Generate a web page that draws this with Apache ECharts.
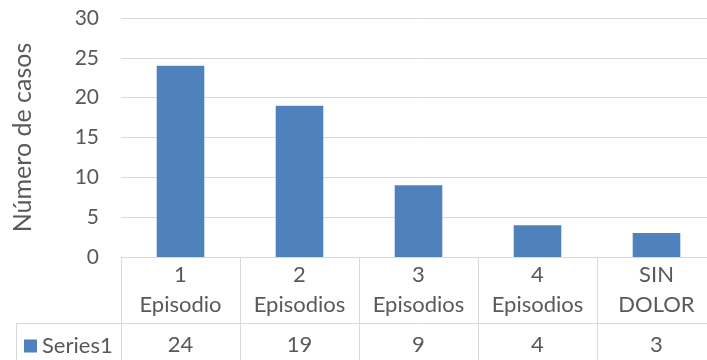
<!DOCTYPE html>
<html>
<head>
<meta charset="utf-8">
<script src="https://cdn.jsdelivr.net/npm/echarts@6/dist/echarts.min.js"></script>
<style>
  html, body { margin: 0; padding: 0; background: #fff; overflow: hidden; }
  #main { width: 716px; height: 360px; }
</style>
</head>
<body>
<div id="main"></div>
<script>
// datos del grafico
var categories = ['1\nEpisodio', '2\nEpisodios', '3\nEpisodios', '4\nEpisodios', 'SIN\nDOLOR']
var seriesName = 'Series1'
var values = [24, 19, 9, 4, 3]
var yTicks = [0, 5, 10, 15, 20, 25, 30]

var font = 'Lato, "Open Sans", sans-serif'
var txt = '#595959'
var line = '#d9d9d9'

// el grafico original esta recortado a la derecha, por eso el div es mas ancho
var chart = echarts.init(document.getElementById('main'))
var option = {
  animation: false,
  textStyle: { fontFamily: font },
  grid: { left: 121, right: 0, top: 18, bottom: 103 },
  legend: {
    data: [seriesName],
    left: 24,
    top: 335,
    padding: 0,
    icon: 'rect',
    itemWidth: 13,
    itemHeight: 13,
    itemGap: 5,
    textStyle: { color: txt, fontSize: 22, fontFamily: font }
  },
  xAxis: [
    {
      type: 'category',
      data: categories,
      axisLine: { lineStyle: { color: line } },
      axisTick: { show: true, length: 104, interval: 0, lineStyle: { color: line } },
      axisLabel: { color: txt, fontSize: 22, lineHeight: 30, margin: 3, interval: 0 }
    },
    {
      type: 'category',
      position: 'bottom',
      offset: 66,
      data: categories,
      axisLine: { lineStyle: { color: line } },
      axisTick: { show: false },
      axisLabel: {
        color: txt, fontSize: 22, margin: 11, interval: 0,
        formatter: function (v, i) { return String(values[i]) }
      }
    }
  ],
  yAxis: {
    type: 'value',
    min: yTicks[0],
    max: yTicks[yTicks.length - 1],
    interval: 5,
    name: 'Número de casos',
    nameLocation: 'middle',
    nameRotate: 90,
    nameGap: 86,
    nameTextStyle: { color: txt, fontSize: 25, fontFamily: font },
    axisLine: { show: false },
    axisTick: { show: false },
    axisLabel: { color: txt, fontSize: 21, margin: 22 },
    splitLine: { lineStyle: { color: line } }
  },
  series: [
    {
      name: seriesName,
      type: 'bar',
      barWidth: '40%',
      data: values,
      itemStyle: { color: '#4f81bd' }
    }
  ],
  graphic: [
    { type: 'line', silent: true, shape: { x1: 16, y1: 323.5, x2: 121, y2: 323.5 }, style: { stroke: line, lineWidth: 1 } },
    { type: 'line', silent: true, shape: { x1: 16.5, y1: 323, x2: 16.5, y2: 360 }, style: { stroke: line, lineWidth: 1 } }
  ]
}
chart.setOption(option)
</script>
</body>
</html>
